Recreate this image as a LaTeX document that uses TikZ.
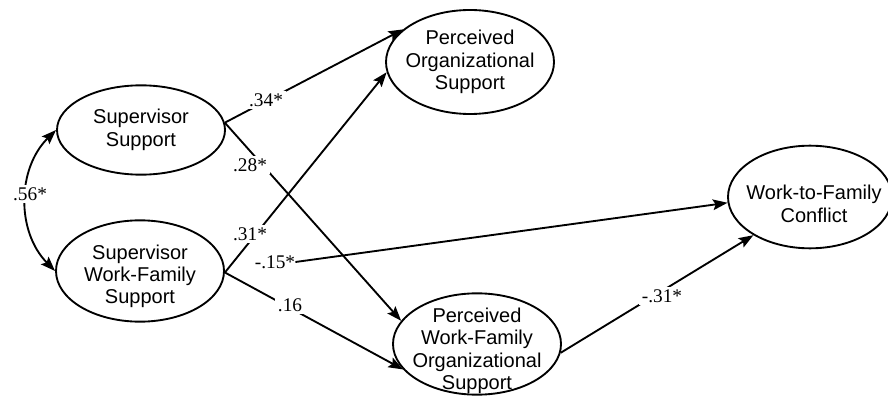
\documentclass[tikz,border=0pt]{standalone}
\usepackage{fontspec}
\setmainfont{Liberation Serif}
\newfontfamily\arialfont{Liberation Sans}
\usetikzlibrary{shapes.geometric, arrows.meta}
\tikzstyle{arrow} = [line width=1.4pt,->,>={Stealth[length=11pt,width=8pt,inset=2pt]}]

\begin{document}
\begin{tikzpicture}
        [
            x=0.75pt, y=-0.75pt,
            latent/.style={ellipse,draw=black,line width=1.4pt,inner sep=0pt,minimum width=126pt,minimum height=76pt},
            ltext/.style={align=center,inner sep=0pt,font=\arialfont\fontsize{15}{16.8}\selectfont},
            coef/.style={fill=white,inner sep=2pt,font=\fontsize{14.5}{16}\selectfont},
        ]

    \useasboundingbox (0,0) rectangle (888,399);

    \node[latent,minimum height=67pt,label={[ltext]center:Supervisor\\Support}] (ss) at (141,130) {};
    \node[latent,label={[ltext,yshift=-4pt]center:Supervisor\\Work-Family\\Support}] (swfs) at (140,271) {};
    \node[latent,minimum height=78pt,label={[ltext]center:Perceived\\Organizational\\Support}] (pos) at (470,62) {};
    \node[latent,minimum height=76pt,label={[ltext,yshift=-5pt]center:Perceived\\Work-Family\\Organizational\\Support}] (pwfos) at (477,344) {};
    \node[latent,minimum width=123pt,minimum height=77pt,label={[ltext,xshift=3pt,yshift=-5pt]center:Work-to-Family\\Conflict}] (wfc) at (810,197) {};

    \node[coef,fill=none,inner sep=0pt] (m15) at (275,262) {-.15*};

    \draw[arrow] (ss.5) -- (pos.154);
    \draw[arrow] (ss.5) -- (pwfos.163);
    \draw[arrow] (swfs.-1) -- (pos.187);
    \draw[arrow] (swfs.-1) -- (pwfos.199);
    \draw[arrow] (m15.east) -- (wfc.184);
    \draw[arrow] (pwfos.-6) -- (wfc.214);
    \draw[arrow,<->] (ss.west) to[bend right=45] (swfs.west);

    \node[coef] (c34) at (266,100) {.34*};
    \node[coef] (c28) at (250,165) {.28*};
    \node[coef] (c31) at (250,234) {.31*};
    \node[coef] (c16) at (290,305) {.16};
    \node[coef] (c31n) at (662,296) {-.31*};
    \node[coef] (c56) at (30,194) {.56*};
    \end{tikzpicture}
\end{document}
